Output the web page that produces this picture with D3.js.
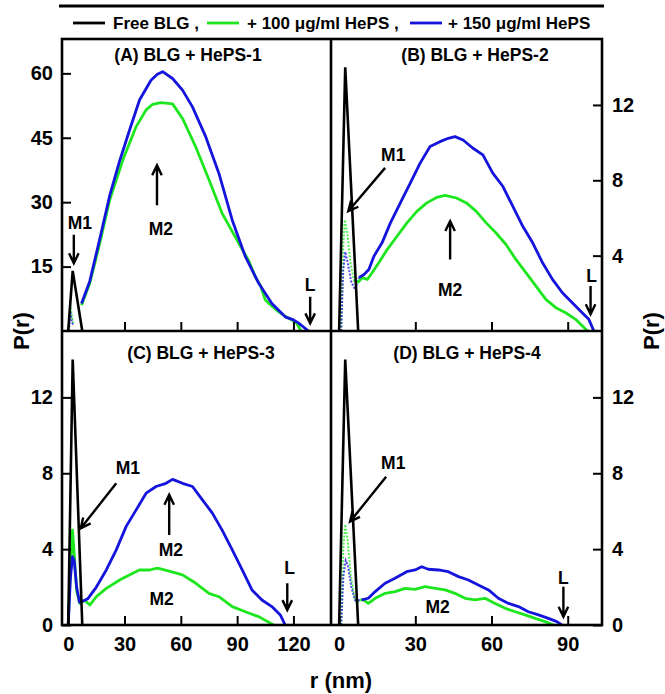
<!DOCTYPE html>
<html><head><meta charset="utf-8">
<script src="https://cdn.jsdelivr.net/npm/d3@7"></script>
<style>
body{margin:0;background:#fff}
svg{display:block}
text{font-family:"Liberation Sans",Arial,Helvetica,sans-serif;font-weight:bold;fill:#000}
</style>
</head><body>
<svg id="c" width="665" height="694"></svg>
<script>
// ---------------- data ----------------
const legendLabels = ["Free BLG ,", "+ 100 \u03BCg/ml HePS ,", "+ 150 \u03BCg/ml HePS"];
const seriesColors = ["#000000", "#1ee61e", "#1414dc"];
const panelTitles = ["(A) BLG + HePS-1", "(B) BLG + HePS-2", "(C) BLG + HePS-3", "(D) BLG + HePS-4"];

const yTicksA = [15, 30, 45, 60];
const yTicksB = [4, 8, 12];
const yTicksCD = [0, 4, 8, 12];
const rTicksAC = [0, 30, 60, 90, 120];
const rTicksBD = [0, 30, 60, 90];

// Free BLG (same in every panel) [r (nm), P(r)]
const freeBLG = [[0, 0], [2.4, 14], [7.5, 0]];

// Panel A
const A_greenSmall = [[0.4, 0], [1.0, 6.4], [1.8, 4.0], [2.6, 1.8]];
const A_blueSmall = [[0.4, 0], [1.1, 4.6], [1.9, 2.2], [2.6, 1.4]];
const A_green = [[7.1,6.0],[11.5,11.1],[16.8,20.4],[22.1,30.5],[29.1,39.8],[36.2,47.6],[41.5,51.5],[45,52.8],[49.4,53.2],[55.6,52.9],[60.9,49.5],[67.9,42.9],[75,35.2],[82,27.4],[90.9,20.4],[96,16.5],[99.7,12.6],[102.5,10.5],[105,7.2],[108,6.0],[112,4.5],[116,3.3],[119,2.6],[121.8,1.8],[124,0]];
const A_blue = [[7.1,6.4],[11.5,11.6],[16.8,21.4],[22.1,31.5],[27.4,39.6],[32.7,46.8],[38,53.8],[44.1,58.4],[47.5,59.8],[50.3,60.4],[55.6,58.8],[60.9,56.1],[66.2,52.2],[73.3,45.2],[80.3,36.7],[87.4,25.8],[94.4,17.3],[101.5,11.1],[108.5,6.4],[115.6,3.3],[120,2.6],[122.6,1.9],[128,0]];

// Panel B
const B_greenSmall = [[0.8,0],[1.5,4.2],[2.2,5.9],[3.2,5.2],[4.5,3.6],[6,2.6],[7.2,2.56]];
const B_blueSmall = [[0.8,0],[1.6,3.2],[2.4,4.2],[3.4,3.6],[4.8,2.6],[6.3,2.2],[7.8,2.83]];
const B_green = [[7.2,2.56],[9.1,2.83],[11.1,2.74],[13,3.09],[15.6,3.62],[18.9,4.32],[22.8,5.03],[26.7,5.74],[30.6,6.35],[34.5,6.8],[38.4,7.09],[41.7,7.2],[46.2,7.06],[50.1,6.8],[54,6.35],[57.9,5.74],[61.8,5.2],[65.7,4.59],[69.6,3.8],[73.6,3.09],[77.5,2.38],[81.4,1.68],[85.3,1.24],[89.2,0.97],[93.1,0.62],[97.8,0]];
const B_blue = [[7.8,2.83],[9.8,3.0],[11.7,3.26],[13.7,3.97],[16.9,4.68],[20.2,5.74],[24.1,6.8],[28,7.85],[31.9,8.91],[35.8,9.79],[39.7,10.05],[43,10.23],[45.6,10.32],[48.8,10.14],[52.7,9.7],[56.6,9.35],[60.5,8.38],[64.5,7.67],[68.4,6.61],[72.3,5.56],[76.2,4.68],[80.1,3.62],[84,2.74],[87.9,2.03],[91.8,1.5],[95.7,0.97],[98.3,0.62],[100.3,0]];

// Panel C
const C_green = [[0,0],[1.2,3],[2.3,5.0],[3.3,3.6],[4.5,1.8],[6.2,1.14],[8.8,1.3],[11.5,1.05],[15,1.5],[20.3,1.93],[27.4,2.37],[34.4,2.73],[37.9,2.9],[43.3,2.9],[47.6,3.0],[53.8,2.84],[60.9,2.64],[68,2.2],[75,1.67],[80.3,1.49],[87.4,0.97],[94.4,0.7],[101.5,0.44],[109.4,0]];
const C_blue = [[0,0],[1.2,2.5],[2.3,3.6],[3.2,3.4],[4.5,2],[6,1.2],[8.8,1.3],[10.6,1.4],[15,2.0],[20.3,2.9],[25.6,3.96],[30.9,5.2],[36.2,6.07],[41.5,6.95],[46.8,7.3],[52.1,7.47],[55.6,7.68],[60.9,7.47],[66.2,7.3],[71.5,6.6],[76.8,5.9],[82,5.0],[87.4,3.96],[92.7,2.9],[97.9,1.85],[103.2,1.32],[108.5,0.97],[113,0.53],[115.6,0]];

// Panel D
const D_greenSmall = [[0.8,0],[1.6,4],[2.4,5.3],[3.4,4.4],[4.6,2.6],[6,1.5],[7,1.14],[8.3,1.32]];
const D_blueSmall = [[0.8,0],[1.7,2.6],[2.6,3.4],[3.5,3.1],[4.8,2],[6.3,1.3],[8.9,1.32]];
const D_green = [[8.3,1.32],[9.6,1.32],[11.5,1.14],[14.2,1.41],[18.1,1.67],[22,1.76],[26,1.93],[29.9,1.88],[33.8,2.02],[37.8,1.93],[41.7,1.85],[45.6,1.67],[49.6,1.41],[53.5,1.32],[57.4,1.41],[61.4,1.14],[65.4,0.88],[69.3,0.7],[73.2,0.53],[77.2,0.35],[81.1,0.18],[84.4,0]];
const D_blue = [[8.9,1.32],[11.5,1.41],[14.2,1.76],[18.1,2.2],[22,2.46],[26.6,2.81],[29.9,2.9],[32.5,3.07],[35.1,2.94],[39.1,2.9],[43,2.81],[47,2.55],[50.9,2.37],[54.8,2.11],[58.8,1.85],[62.7,1.41],[66.7,1.14],[70.6,0.97],[74.5,0.7],[78.5,0.53],[82.4,0.35],[85.7,0.18],[87.7,0]];

// Annotations in data coordinates [r, P]
const labelsA = [["M1", 6.2, 25.1], ["M2", 49.4, 23.7], ["L", 128.9, 10.7]];
const arrowsA = [[[3.0, 22.4], [3.0, 15.8]], [[47.3, 29.3], [47.3, 38.6]], [[128.9, 8.0], [128.9, 1.8]]];
const labelsB = [["M1", 21.3, 9.37], ["M2", 43.7, 2.2], ["L", 99.4, 2.9]];
const arrowsB = [[[18.1, 8.66], [3.6, 6.36]], [[43.7, 3.8], [43.7, 5.83]], [[99.0, 2.39], [99.0, 0.89]]];
const labelsC = [["M1", 31.8, 8.26], ["M2", 54.7, 3.96], ["M2", 49.8, 1.36], ["L", 117.9, 2.99]];
const arrowsC = [[[25.6, 7.47], [6.7, 5.1]], [[53.8, 4.75], [53.8, 6.86]], [[116.7, 2.2], [116.7, 0.79]]];
const labelsD = [["M1", 21.3, 8.53], ["M2", 38.8, 0.97], ["L", 88.3, 2.49]];
const arrowsD = [[[18.5, 7.82], [4.3, 5.45]], [[88.3, 2.02], [88.3, 0.44]]];

// ---------------- layout ----------------
const L = 62, M = 331, R = 602, T = 39, B = 625;
const svg = d3.select("#c");

const xAC = d3.scaleLinear().domain([-3.3, 140]).range([L, M]);
const xBD = d3.scaleLinear().domain([-3.2, 103.5]).range([M, R]);
const yA = d3.scaleLinear().domain([0, 68]).range([M, T]);
const yB = d3.scaleLinear().domain([0, 15.5]).range([M, T]);
const yCD = d3.scaleLinear().domain([0, 15.5]).range([B, M]);

const panels = [
  {x: xAC, y: yA, x0: L, x1: M, y0: T, y1: M, title: panelTitles[0], tx: 188, ty: 55,
   small: [A_greenSmall, A_blueSmall], main: [A_green, A_blue], labels: labelsA, arrows: arrowsA},
  {x: xBD, y: yB, x0: M, x1: R, y0: T, y1: M, title: panelTitles[1], tx: 475, ty: 55,
   small: [B_greenSmall, B_blueSmall], main: [B_green, B_blue], labels: labelsB, arrows: arrowsB},
  {x: xAC, y: yCD, x0: L, x1: M, y0: M, y1: B, title: panelTitles[2], tx: 201, ty: 353,
   small: [], main: [C_green, C_blue], labels: labelsC, arrows: arrowsC},
  {x: xBD, y: yCD, x0: M, x1: R, y0: M, y1: B, title: panelTitles[3], tx: 467, ty: 353,
   small: [D_greenSmall, D_blueSmall], main: [D_green, D_blue], labels: labelsD, arrows: arrowsD}
];

const defs = svg.append("defs");

panels.forEach((p, i) => {
  const clipId = "clip" + i;
  defs.append("clipPath").attr("id", clipId).append("rect")
    .attr("x", p.x0).attr("y", p.y0).attr("width", p.x1 - p.x0).attr("height", p.y1 - p.y0);
  const g = svg.append("g").attr("clip-path", `url(#${clipId})`);
  const line = d3.line().x(d => p.x(d[0])).y(d => p.y(d[1]));
  p.small.forEach((s, k) => {
    g.append("path").attr("d", line(s)).attr("fill", "none")
      .attr("stroke", seriesColors[k + 1]).attr("stroke-width", 2)
      .attr("stroke-dasharray", "2,1.5").attr("opacity", 0.75);
  });
  p.main.forEach((s, k) => {
    g.append("path").attr("d", line(s)).attr("fill", "none")
      .attr("stroke", seriesColors[k + 1]).attr("stroke-width", 2.8)
      .attr("stroke-linejoin", "round");
  });
  g.append("path").attr("d", line(freeBLG)).attr("fill", "none")
    .attr("stroke", seriesColors[0]).attr("stroke-width", 2.6).attr("stroke-linejoin", "miter");

  // title
  svg.append("text").attr("x", p.tx).attr("y", p.ty).attr("dy", "0.35em")
    .attr("text-anchor", "middle").style("font-size", "17.5px").text(p.title);

  // annotations
  p.labels.forEach(([t, r, v]) => {
    svg.append("text").attr("x", p.x(r)).attr("y", p.y(v)).attr("dy", "0.35em")
      .attr("text-anchor", "middle").style("font-size", "17.5px").text(t);
  });
  p.arrows.forEach(([a, b]) => {
    const x1 = p.x(a[0]), y1 = p.y(a[1]), x2 = p.x(b[0]), y2 = p.y(b[1]);
    const ang = Math.atan2(y2 - y1, x2 - x1);
    const hl = 11, ha = 0.45;
    const pa = [x2 - hl * Math.cos(ang - ha), y2 - hl * Math.sin(ang - ha)];
    const pb = [x2 - hl * Math.cos(ang + ha), y2 - hl * Math.sin(ang + ha)];
    svg.append("path")
      .attr("d", `M${x1},${y1}L${x2},${y2}M${pa[0]},${pa[1]}L${x2},${y2}L${pb[0]},${pb[1]}`)
      .attr("fill", "none").attr("stroke", "#000").attr("stroke-width", 2.4);
  });
});

// ---------------- axes ----------------
function styleAxis(g) {
  g.select(".domain").remove();
  g.selectAll(".tick line").attr("stroke", "#000").attr("stroke-width", 2);
  g.selectAll(".tick text").style("font-size", "20px").style("font-family", null).attr("fill", "#000");
}
const TS = 9;
// Panel A
svg.append("g").attr("transform", `translate(${L},0)`)
  .call(d3.axisLeft(yA).tickValues(yTicksA).tickSize(-TS).tickPadding(9)).call(styleAxis);
svg.append("g").attr("transform", `translate(0,${M})`)
  .call(d3.axisBottom(xAC).tickValues(rTicksAC.slice(1)).tickSize(-TS).tickFormat("")).call(styleAxis);
// Panel B
svg.append("g").attr("transform", `translate(${R},0)`)
  .call(d3.axisRight(yB).tickValues(yTicksB).tickSize(-TS).tickPadding(10)).call(styleAxis);
svg.append("g").attr("transform", `translate(0,${M})`)
  .call(d3.axisBottom(xBD).tickValues(rTicksBD.slice(1)).tickSize(-TS).tickFormat("")).call(styleAxis);
// Panel C
svg.append("g").attr("transform", `translate(${L},0)`)
  .call(d3.axisLeft(yCD).tickValues(yTicksCD).tickSize(-TS).tickPadding(9)).call(styleAxis);
svg.append("g").attr("transform", `translate(0,${B})`)
  .call(d3.axisBottom(xAC).tickValues(rTicksAC).tickSize(-TS).tickPadding(12)).call(styleAxis);
// Panel D
svg.append("g").attr("transform", `translate(${R},0)`)
  .call(d3.axisRight(yCD).tickValues(yTicksCD).tickSize(-TS).tickPadding(10)).call(styleAxis);
svg.append("g").attr("transform", `translate(0,${B})`)
  .call(d3.axisBottom(xBD).tickValues(rTicksBD).tickSize(-TS).tickPadding(12)).call(styleAxis);

// frame
svg.append("rect").attr("x", L).attr("y", T).attr("width", R - L).attr("height", B - T)
  .attr("fill", "none").attr("stroke", "#000").attr("stroke-width", 2.6);
svg.append("line").attr("x1", M).attr("x2", M).attr("y1", T).attr("y2", B).attr("stroke", "#000").attr("stroke-width", 2.6);
svg.append("line").attr("x1", L).attr("x2", R).attr("y1", M).attr("y2", M).attr("stroke", "#000").attr("stroke-width", 2.6);

// axis titles
svg.append("text").attr("x", 341).attr("y", 680).attr("dy", "0.35em").attr("text-anchor", "middle")
  .style("font-size", "22px").text("r (nm)");
svg.append("text").attr("transform", "translate(21,331) rotate(-90)").attr("dy", "0.35em")
  .attr("text-anchor", "middle").style("font-size", "22px").text("P(r)");
svg.append("text").attr("transform", "translate(651,331) rotate(-90)").attr("dy", "0.35em")
  .attr("text-anchor", "middle").style("font-size", "22px").text("P(r)");

// legend
svg.append("line").attr("x1", 59).attr("x2", 604).attr("y1", 6).attr("y2", 6)
  .attr("stroke", "#000").attr("stroke-width", 3);
const legLineX = [73, 207, 410];
const legTextX = [113, 247, 448];
legendLabels.forEach((t, i) => {
  svg.append("line").attr("x1", legLineX[i]).attr("x2", legLineX[i] + 32).attr("y1", 23).attr("y2", 23)
    .attr("stroke", seriesColors[i]).attr("stroke-width", 2.8);
  svg.append("text").attr("x", legTextX[i]).attr("y", 23).attr("dy", "0.35em")
    .style("font-size", "17px").text(t);
});
</script>
</body></html>
